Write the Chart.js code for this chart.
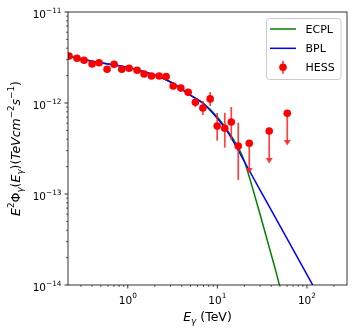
<!DOCTYPE html>
<html>
<head>
<meta charset="utf-8">
<script src="https://cdn.jsdelivr.net/npm/chart.js@4.4.1/dist/chart.umd.min.js"></script>
<style>
  html, body { margin: 0; padding: 0; background: #fff; }
  canvas { display: block; }
</style>
</head>
<body>
<canvas id="sed" width="354" height="334"></canvas>
<script>
// HESS flux points: energy (TeV), E^2 flux and error bar ends (TeV cm^-2 s^-1)
var hessE  = [0.221, 0.271, 0.325, 0.399, 0.478, 0.587, 0.703, 0.857, 1.034, 1.27, 1.52, 1.84,
              2.24, 2.68, 3.21, 3.91, 4.72, 5.68, 6.89, 8.31, 9.95, 12.1, 14.3, 17.1];
var hessF  = [3.28e-12, 3.10e-12, 2.95e-12, 2.68e-12, 2.77e-12, 2.35e-12, 2.66e-12, 2.35e-12,
              2.41e-12, 2.29e-12, 2.08e-12, 1.98e-12, 1.98e-12, 1.95e-12, 1.54e-12, 1.46e-12,
              1.31e-12, 1.02e-12, 8.81e-13, 1.11e-12, 5.59e-13, 5.27e-13, 6.18e-13, 3.37e-13];
var hessLo = [3.18e-12, 3.01e-12, 2.86e-12, 2.60e-12, 2.69e-12, 2.28e-12, 2.58e-12, 2.28e-12,
              2.34e-12, 2.22e-12, 2.00e-12, 1.89e-12, 1.89e-12, 1.85e-12, 1.42e-12, 1.32e-12,
              1.20e-12, 9.04e-13, 7.38e-13, 9.27e-13, 3.85e-13, 3.23e-13, 3.92e-13, 1.43e-13];
var hessHi = [3.38e-12, 3.19e-12, 3.04e-12, 2.76e-12, 2.85e-12, 2.42e-12, 2.74e-12, 2.42e-12,
              2.48e-12, 2.36e-12, 2.16e-12, 2.07e-12, 2.07e-12, 2.05e-12, 1.66e-12, 1.58e-12,
              1.43e-12, 1.13e-12, 1.06e-12, 1.32e-12, 7.76e-13, 7.82e-13, 9.04e-13, 6.08e-13];

// HESS upper limits (arrow drawn down to ulEnd)
var ulE   = [22.7, 37.9, 60.3];
var ulF   = [3.61e-13, 4.92e-13, 7.70e-13];
var ulEnd = [1.70e-13, 2.19e-13, 3.45e-13];

// model curves
var ecplE = [0.2, 0.3, 0.5, 1, 2, 3, 5, 7, 10, 12.5, 15, 17.5, 20, 22.5, 25, 30, 35, 40, 45, 50, 55];
var ecplF = [3.33e-12, 3.05e-12, 2.77e-12, 2.46e-12, 2.03e-12, 1.70e-12, 1.22e-12, 9.9e-13,
             7.0e-13, 5.25e-13, 4.02e-13, 3.12e-13, 2.305e-13, 1.589e-13, 1.118e-13, 5.95e-14,
             3.45e-14, 2.15e-14, 1.41e-14, 9.4e-15, 6.3e-15];
var bplE  = [0.2, 0.3, 0.5, 1, 2, 3, 5, 7, 10, 12.5, 15, 20, 30, 50, 100, 130];
var bplF  = [3.33e-12, 3.05e-12, 2.77e-12, 2.46e-12, 2.03e-12, 1.70e-12, 1.22e-12, 9.8e-13,
             6.76e-13, 5.11e-13, 3.82e-13, 2.276e-13, 1.104e-13, 4.46e-14, 1.30e-14, 8.15e-15];

// axis ticks (labels are 10^exp)
var xTicks = [1, 10, 100];
var xTickExp = ['0', '1', '2'];
var yTicks = [1e-14, 1e-13, 1e-12, 1e-11];
var yTickExp = ['\u221214', '\u221213', '\u221212', '\u221211'];

var legendNames = ['ECPL', 'BPL', 'HESS'];

var GREEN = '#008000', BLUE = '#0000ff', RED = '#ff0000', BAR = 'rgba(255,30,30,0.85)';
var FONT = "'DejaVu Sans'";

function pairs(xs, ys) {
    return xs.map(function(v, i) { return {x: v, y: ys[i]}; });
}

// small mathtext-like renderer: parts = [{t, i (italic), s ('^' or '_')}]
function partFont(p, size) {
    var sz = p.s ? size * 0.7 : size;
    return (p.i ? 'italic ' : '') + sz + 'px ' + FONT;
}
function partsWidth(ctx, parts, size) {
    var w = 0;
    parts.forEach(function(p) { ctx.font = partFont(p, size); w += ctx.measureText(p.t).width; });
    return w;
}
function drawParts(ctx, parts, x, y, size, align, raise) {
    var w = partsWidth(ctx, parts, size);
    if (align === 'center') x -= w / 2;
    else if (align === 'right') x -= w;
    ctx.textAlign = 'left';
    ctx.textBaseline = 'alphabetic';
    parts.forEach(function(p) {
        ctx.font = partFont(p, size);
        var dy = p.s === '^' ? -size * (raise || 0.45) : (p.s === '_' ? size * 0.22 : 0);
        ctx.fillText(p.t, x, y + dy);
        x += ctx.measureText(p.t).width;
    });
}

function drawErrorBars(chart) {
    var ctx = chart.ctx, xs = chart.scales.x, ys = chart.scales.y, a = chart.chartArea;
    ctx.save();
    ctx.beginPath();
    ctx.rect(a.left, a.top, a.right - a.left, a.bottom - a.top);
    ctx.clip();
    ctx.strokeStyle = BAR;
    ctx.fillStyle = BAR;
    ctx.lineWidth = 1.7;
    for (var i = 0; i < hessE.length; i++) {
        var px = xs.getPixelForValue(hessE[i]);
        ctx.beginPath();
        ctx.moveTo(px, ys.getPixelForValue(hessHi[i]));
        ctx.lineTo(px, ys.getPixelForValue(hessLo[i]));
        ctx.stroke();
    }
    for (var j = 0; j < ulE.length; j++) {
        var ux = xs.getPixelForValue(ulE[j]);
        var uy = ys.getPixelForValue(ulEnd[j]);
        ctx.beginPath();
        ctx.moveTo(ux, ys.getPixelForValue(ulF[j]));
        ctx.lineTo(ux, uy - 3);
        ctx.stroke();
        ctx.beginPath();
        ctx.moveTo(ux - 3.5, uy - 5);
        ctx.lineTo(ux + 3.5, uy - 5);
        ctx.lineTo(ux, uy + 0.5);
        ctx.closePath();
        ctx.fill();
    }
    ctx.restore();
}

function drawAxes(chart) {
    var ctx = chart.ctx, xs = chart.scales.x, ys = chart.scales.y, a = chart.chartArea;
    ctx.save();
    ctx.strokeStyle = '#000';
    ctx.fillStyle = '#000';

    // frame
    ctx.lineWidth = 0.8;
    ctx.strokeRect(a.left, a.top, a.right - a.left, a.bottom - a.top);

    // x ticks (major + minor)
    for (var d = -1; d <= 2; d++) {
        for (var m = 1; m <= 9; m++) {
            var v = m * Math.pow(10, d);
            if (v < xs.min || v > xs.max) continue;
            var px = xs.getPixelForValue(v);
            ctx.lineWidth = m === 1 ? 0.8 : 0.6;
            ctx.beginPath();
            ctx.moveTo(px, a.bottom);
            ctx.lineTo(px, a.bottom + (m === 1 ? 3.5 : 2));
            ctx.stroke();
        }
    }
    // y ticks
    for (var e = -14; e <= -11; e++) {
        for (var k = 1; k <= 9; k++) {
            var yv = k * Math.pow(10, e);
            if (yv < ys.min * 0.999 || yv > ys.max * 1.001) continue;
            var py = ys.getPixelForValue(yv);
            ctx.lineWidth = k === 1 ? 0.8 : 0.6;
            ctx.beginPath();
            ctx.moveTo(a.left, py);
            ctx.lineTo(a.left - (k === 1 ? 3.5 : 2), py);
            ctx.stroke();
        }
    }

    // tick labels
    xTicks.forEach(function(v, i) {
        drawParts(ctx, [{t: '10'}, {t: xTickExp[i], s: '^'}],
                  xs.getPixelForValue(v), a.bottom + 18.5, 10.5, 'center', 0.5);
    });
    yTicks.forEach(function(v, i) {
        drawParts(ctx, [{t: '10'}, {t: yTickExp[i], s: '^'}],
                  a.left - 6.5, ys.getPixelForValue(v) + 6.3, 10.5, 'right', 0.5);
    });

    // axis titles
    drawParts(ctx, [{t: 'E', i: 1}, {t: '\u03b3', i: 1, s: '_'}, {t: ' (TeV)'}],
              (a.left + a.right) / 2, 321, 12.5, 'center');

    ctx.save();
    ctx.translate(20, (a.top + a.bottom) / 2);
    ctx.rotate(-Math.PI / 2);
    drawParts(ctx, [
        {t: 'E', i: 1}, {t: '2', s: '^'}, {t: '\u03a6'}, {t: '\u03b3', i: 1, s: '_'},
        {t: '('}, {t: 'E', i: 1}, {t: '\u03b3', i: 1, s: '_'}, {t: ')('},
        {t: 'TeVcm', i: 1}, {t: '\u22122', s: '^'}, {t: 's', i: 1}, {t: '\u22121', s: '^'}, {t: ')'}
    ], 0, 0, 12.5, 'center');
    ctx.restore();

    // legend
    ctx.beginPath();
    ctx.roundRect(266.5, 18.5, 74.5, 61, 3);
    ctx.fillStyle = 'rgba(255,255,255,0.8)';
    ctx.fill();
    ctx.strokeStyle = '#cccccc';
    ctx.lineWidth = 1;
    ctx.stroke();

    var rows = [29, 48.3, 67.3];
    ctx.lineWidth = 1.5;
    ctx.strokeStyle = GREEN;
    ctx.beginPath(); ctx.moveTo(270, rows[0]); ctx.lineTo(296, rows[0]); ctx.stroke();
    ctx.strokeStyle = BLUE;
    ctx.beginPath(); ctx.moveTo(270, rows[1]); ctx.lineTo(296, rows[1]); ctx.stroke();
    ctx.strokeStyle = BAR;
    ctx.lineWidth = 1.7;
    ctx.beginPath(); ctx.moveTo(283, rows[2] - 6.5); ctx.lineTo(283, rows[2] + 6.5); ctx.stroke();
    ctx.fillStyle = RED;
    ctx.beginPath(); ctx.arc(283, rows[2], 3.8, 0, Math.PI * 2); ctx.fill();

    ctx.fillStyle = '#000';
    legendNames.forEach(function(name, i) {
        drawParts(ctx, [{t: name}], 305.5, rows[i] + 4, 11, 'left');
    });

    ctx.restore();
}

var mplLook = {
    id: 'mplLook',
    beforeDatasetDraw: function(chart, args) {
        if (args.index === 2) drawErrorBars(chart);
    },
    afterDraw: function(chart) {
        drawAxes(chart);
    }
};

var ctx = document.getElementById('sed').getContext('2d');
var sedChart = new Chart(ctx, {
    type: 'scatter',
    data: {
        datasets: [
            {
                label: 'ECPL',
                data: pairs(ecplE, ecplF),
                showLine: true,
                borderColor: GREEN,
                borderWidth: 1.5,
                pointRadius: 0,
                cubicInterpolationMode: 'monotone',
                clip: 0,
                order: 4
            },
            {
                label: 'BPL',
                data: pairs(bplE, bplF),
                showLine: true,
                borderColor: BLUE,
                borderWidth: 1.5,
                pointRadius: 0,
                cubicInterpolationMode: 'monotone',
                clip: 0,
                order: 3
            },
            {
                label: 'HESS',
                data: pairs(hessE, hessF),
                backgroundColor: RED,
                borderColor: RED,
                borderWidth: 0,
                pointRadius: 3.8,
                clip: 0,
                order: 1
            },
            {
                label: 'HESS UL',
                data: pairs(ulE, ulF),
                backgroundColor: RED,
                borderColor: RED,
                borderWidth: 0,
                pointRadius: 3.8,
                clip: 0,
                order: 0
            }
        ]
    },
    options: {
        responsive: false,
        animation: false,
        devicePixelRatio: 1,
        layout: { padding: { left: 68, right: 7, top: 12, bottom: 49 } },
        plugins: {
            legend: { display: false },
            tooltip: { enabled: false }
        },
        events: [],
        scales: {
            x: { type: 'logarithmic', display: false, min: 0.215, max: 280, bounds: 'data' },
            y: { type: 'logarithmic', display: false, min: 1e-14, max: 1e-11, bounds: 'data' }
        }
    },
    plugins: [mplLook]
});
</script>
</body>
</html>
